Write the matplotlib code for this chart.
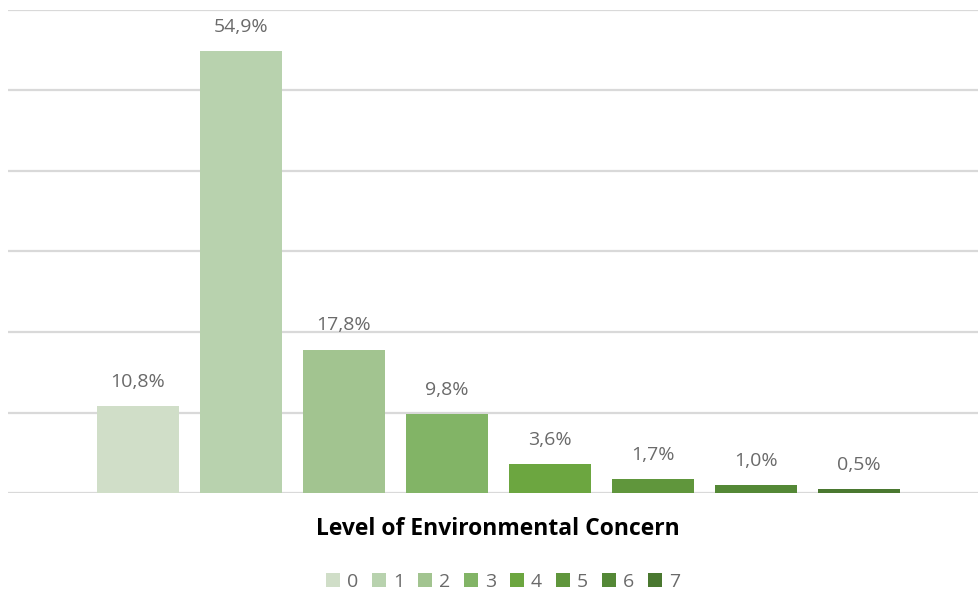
import matplotlib.pyplot as plt
from matplotlib.patches import Patch

# ── data ─────────────────────────────────────────────────────────────────────
levels = ["0", "1", "2", "3", "4", "5", "6", "7"]
shares = [10.8, 54.9, 17.8, 9.8, 3.6, 1.7, 1.0, 0.5]   # %
colors = ["#D0DEC8", "#B8D2AE", "#A2C490", "#82B466",
          "#6CA640", "#60963C", "#548836", "#4A7830"]

W, H = 979, 598
fig = plt.figure(figsize=(W / 100, H / 100), dpi=100)
# plot area in pixels: x 8..979, y 10..493
ax = fig.add_axes([8 / W, 1 - 493 / H, (979 - 8) / W, (493 - 10) / H])

x = range(len(levels))
bars = ax.bar(x, shares, width=0.796, color=colors, zorder=3)

for xi, v in zip(x, shares):
    label = f"{v:.1f}".replace(".", ",") + "%"
    ax.annotate(label, (xi, v),
                xytext=(0, 11), textcoords="offset points",
                ha="center", va="bottom", fontsize=14,
                family="Open Sans", color="#6A6A6A")

ax.set_xlim(-1.262, 8.165)
ax.set_ylim(0, 60)
ax.set_yticks(range(0, 61, 10))
ax.yaxis.grid(True, color="#D9D9D9", lw=1.6, zorder=0)
ax.tick_params(left=False, bottom=False, labelleft=False, labelbottom=False)
for s in ax.spines.values():
    s.set_visible(False)

fig.text(498 / W, 1 - 529 / H, "Level of Environmental Concern",
         ha="center", va="center", fontsize=16.5, fontweight="bold",
         family="Open Sans", color="#000000")

handles = [Patch(facecolor=c, edgecolor="none") for c in colors]
fig.legend(handles, levels, loc="center", bbox_to_anchor=(503 / W, 1 - 582 / H),
           ncol=8, frameon=False, handlelength=0.72, handleheight=0.72,
           handletextpad=0.35, columnspacing=0.72,
           prop={"family": "Open Sans", "size": 14},
           labelcolor="#6A6A6A")

fig.savefig("out.png", dpi=100)
